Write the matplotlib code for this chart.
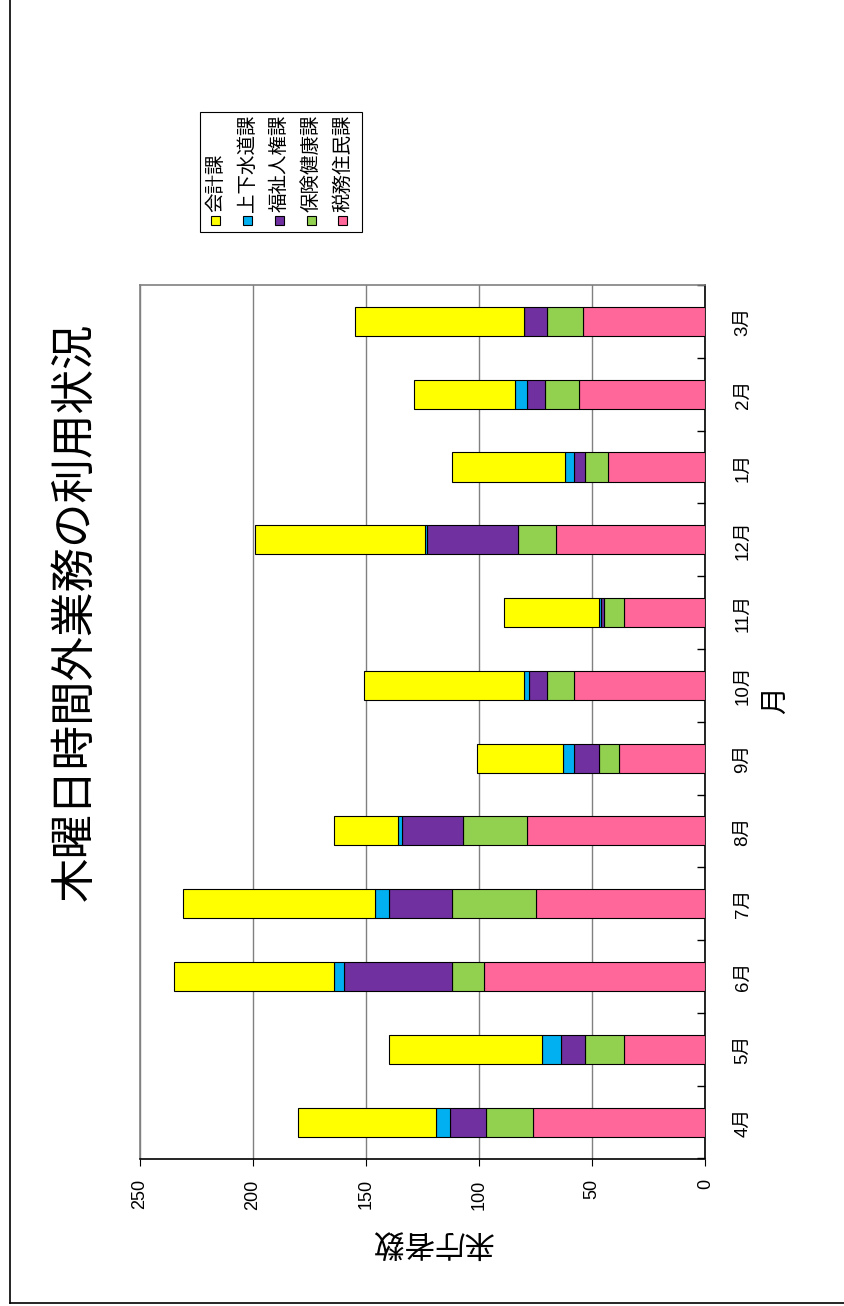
import numpy as np
import matplotlib
matplotlib.use('Agg')
import matplotlib.pyplot as plt
from matplotlib.patches import Rectangle
from matplotlib.lines import Line2D
from matplotlib.ticker import FixedLocator

plt.rcParams['font.family'] = ['Liberation Sans', 'Noto Sans CJK JP']

# 月別・課別の来庁者数（木曜日時間外）
months = ['4月', '5月', '6月', '7月', '8月', '9月', '10月', '11月', '12月', '1月', '2月', '3月']
zeimu = [76, 36, 98, 75, 79, 38, 58, 36, 66, 43, 56, 54]      # 税務住民課
hoken = [21, 17, 14, 37, 28, 9, 12, 9, 17, 10, 15, 16]        # 保険健康課
fukushi = [16, 11, 48, 28, 27, 11, 8, 1, 40, 5, 8, 10]        # 福祉人権課
jogesuido = [6, 8, 4, 6, 2, 5, 2, 1, 1, 4, 5, 0]              # 上下水道課
kaikei = [61, 68, 71, 85, 28, 38, 71, 42, 75, 50, 45, 75]     # 会計課
value_ticks = [0, 50, 100, 150, 200, 250]

stack_names = ['税務住民課', '保険健康課', '福祉人権課', '上下水道課', '会計課']
stack_colors = ['#FF6699', '#92D050', '#7030A0', '#00B0F0', '#FFFF00']

W, H = 844, 1306
fig = plt.figure(figsize=(W / 100, H / 100), dpi=100)


def fx(px):
    return px / W


def fy(py):
    return 1 - py / H


# 横倒しのレイアウト：値軸は下、月は右側
ax = fig.add_axes([fx(140), fy(1158.5), 565.3 / W, 873.5 / H])

pos = np.arange(len(months))
left = np.zeros(len(months))
for vals, c in zip([zeimu, hoken, fukushi, jogesuido, kaikei], stack_colors):
    ax.barh(pos, vals, left=left, height=0.4, color=c,
            edgecolor='black', linewidth=0.8, zorder=3)
    left += np.array(vals)

ax.set_xlim(250, 0)
ax.set_ylim(-0.5, len(months) - 0.5)
ax.set_xticks(value_ticks)
ax.set_xticklabels([str(v) for v in value_ticks])
ax.xaxis.grid(True, color='#808080', linewidth=1.0, zorder=0)
ax.set_axisbelow(True)

ax.set_yticks(pos)
ax.set_yticklabels(months)
ax.yaxis.tick_right()
ax.yaxis.set_minor_locator(FixedLocator(np.arange(-0.5, len(months), 1.0)))
ax.tick_params(axis='y', which='major', length=0, pad=21, labelsize=13.5, labelrotation=90)
ax.tick_params(axis='y', which='minor', direction='in', length=6, width=1, color='black')
ax.tick_params(axis='x', which='major', direction='out', length=5, pad=10,
               labelsize=13, labelrotation=90, color='black')
for lab in ax.get_yticklabels():
    lab.set_va('center')

ax.spines['right'].set_color('black')
ax.spines['bottom'].set_color('black')
ax.spines['left'].set_color('#808080')
ax.spines['top'].set_color('#808080')
for s in ax.spines.values():
    s.set_linewidth(1.2)

jp = ['Noto Sans CJK JP']
fig.text(fx(75), fy(612), '木曜日時間外業務の利用状況', rotation=90, fontsize=32,
         ha='center', va='center', family=jp)
fig.text(fx(432), fy(1242), '来庁者数', rotation=180, fontsize=22,
         ha='center', va='center', family=jp)
fig.text(fx(775), fy(700), '月', rotation=90, fontsize=20,
         ha='center', va='center', family=jp)

# 凡例（手描き）
fig.add_artist(Rectangle((fx(200), fy(231.7)), 161.7 / W, 120 / H,
                         transform=fig.transFigure, facecolor='white',
                         edgecolor='black', linewidth=0.8))
legend_order = list(range(len(stack_names)))[::-1]
for i, k in enumerate(legend_order):
    cx = 215.7 + i * 31.8
    fig.add_artist(Rectangle((fx(cx - 4.5), fy(224.5)), 9 / W, 9 / H,
                             transform=fig.transFigure, facecolor=stack_colors[k],
                             edgecolor='black', linewidth=0.8))
    fig.text(fx(cx), fy(212), stack_names[k], rotation=90, fontsize=14,
             ha='center', va='bottom', family=jp)

# ページ枠
fig.add_artist(Line2D([fx(9.5), fx(9.5)], [fy(1302.5), 1], transform=fig.transFigure,
                      color='black', linewidth=1.2))
fig.add_artist(Line2D([fx(9.5), 1], [fy(1302.5), fy(1302.5)], transform=fig.transFigure,
                      color='black', linewidth=1.2))

fig.savefig('out.png', dpi=100)
